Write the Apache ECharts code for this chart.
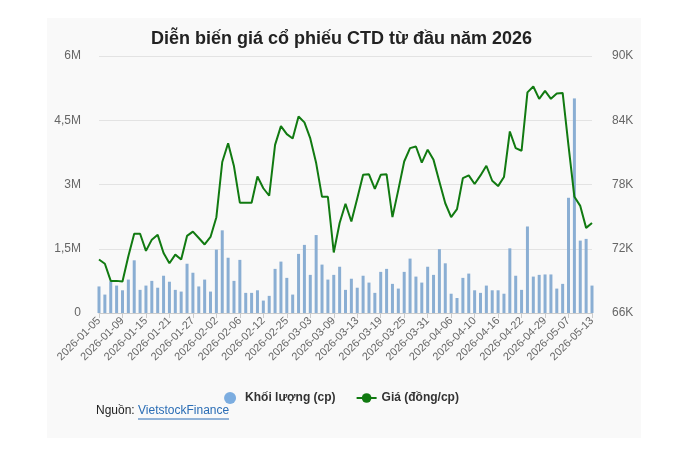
<!DOCTYPE html>
<html><head><meta charset="utf-8">
<script src="https://cdn.jsdelivr.net/npm/echarts@6/dist/echarts.min.js"></script>
<style>html,body{margin:0;padding:0;background:#fff}#c{width:683px;height:454px}</style>
</head><body><div id="c"></div>
<script>
const dates = [
'2026-01-05','2026-01-06','2026-01-07','2026-01-08','2026-01-09','2026-01-12','2026-01-13','2026-01-14','2026-01-15','2026-01-16',
'2026-01-19','2026-01-20','2026-01-21','2026-01-22','2026-01-23','2026-01-26','2026-01-27','2026-01-28','2026-01-29','2026-01-30',
'2026-02-02','2026-02-03','2026-02-04','2026-02-05','2026-02-06','2026-02-09','2026-02-10','2026-02-11','2026-02-12','2026-02-13',
'2026-02-23','2026-02-24','2026-02-25','2026-02-26','2026-02-27','2026-03-02','2026-03-03','2026-03-04','2026-03-05','2026-03-06',
'2026-03-09','2026-03-10','2026-03-11','2026-03-12','2026-03-13','2026-03-16','2026-03-17','2026-03-18','2026-03-19','2026-03-20',
'2026-03-23','2026-03-24','2026-03-25','2026-03-26','2026-03-27','2026-03-30','2026-03-31','2026-04-01','2026-04-02','2026-04-03',
'2026-04-06','2026-04-07','2026-04-08','2026-04-09','2026-04-10','2026-04-13','2026-04-14','2026-04-15','2026-04-16','2026-04-17',
'2026-04-20','2026-04-21','2026-04-22','2026-04-23','2026-04-24','2026-04-28','2026-04-29','2026-05-04','2026-05-05','2026-05-06',
'2026-05-07','2026-05-08','2026-05-11','2026-05-12','2026-05-13'];

// Khối lượng (cp)
const volume = [
620000,430000,740000,640000,530000,780000,1230000,540000,640000,750000,
590000,870000,730000,540000,500000,1150000,940000,620000,780000,500000,
1480000,1930000,1290000,750000,1240000,470000,470000,530000,290000,400000,
1030000,1200000,820000,430000,1380000,1590000,890000,1820000,1130000,780000,
890000,1080000,540000,800000,590000,870000,710000,470000,960000,1030000,
680000,570000,960000,1270000,850000,710000,1080000,890000,1490000,1160000,
450000,350000,820000,920000,530000,470000,640000,530000,530000,450000,
1510000,870000,540000,2020000,850000,890000,900000,900000,570000,680000,
2690000,5010000,1690000,1730000,640000];

// Giá (đồng/cp)
const price = [
71000,70600,69000,69000,68950,71300,73400,73400,71800,72850,
73300,71600,70650,71450,71000,73200,73600,73000,72400,73100,
74950,80100,81850,79700,76300,76300,76300,78750,77650,76950,
81700,83450,82700,82300,84350,83800,82300,80000,76850,76850,
71650,74400,76200,74550,76700,78900,78950,77600,78900,78950,
74950,77500,80150,81400,81550,80050,81250,80300,78250,76250,
74950,75700,78600,78850,78050,78850,79750,78350,77850,78700,
82950,81400,81150,86600,87150,86000,86750,86000,86500,86550,
81600,76850,76000,73950,74400];

const leftTicks = {0:'0',1500000:'1,5M',3000000:'3M',4500000:'4,5M',6000000:'6M'};

const chart = echarts.init(document.getElementById('c'), null, {renderer:'canvas'});
const font = 'Arial, "Liberation Sans", sans-serif';
chart.setOption({
  backgroundColor: '#ffffff',
  animation: false,
  title: {
    text: 'Diễn biến giá cổ phiếu CTD từ đầu năm 2026',
    left: 'center', top: 25,
    textStyle: {fontFamily: font, fontSize: 18, fontWeight: 'bold', color: '#222'}
  },
  graphic: [
    {type:'rect', z:-10, shape:{x:47,y:18,width:594,height:420}, style:{fill:'#f9f9f9'}},
    {type:'text', left: 96, top: 405, style:{text:'Nguồn: ', fontFamily:font, fontSize:12, fill:'#222'}},
    {type:'text', left: 138, top: 405, style:{text:'VietstockFinance', fontFamily:font, fontSize:12, fill:'#2a6db5'}},
    {type:'line', shape:{x1:138,y1:419,x2:229,y2:419}, style:{stroke:'#2a6db5', lineWidth:1}}
  ],
  legend: {
    top: 387, left: 'center', itemGap: 20,
    textStyle: {fontFamily: font, fontSize: 12, fontWeight: 'bold', color: '#333'},
    data: [
      {name:'Khối lượng (cp)', icon:'circle', itemStyle:{color:'#7cade0'}},
      {name:'Giá (đồng/cp)'}
    ],
    itemWidth: 20, itemHeight: 12
  },
  grid: {left: 99, right: 91, top: 56, bottom: 141, containLabel: false},
  xAxis: {
    type: 'category', data: dates, boundaryGap: false,
    axisLine: {show: true, lineStyle: {color: '#ccc'}},
    axisTick: {show: true, interval: 3, length: 5, lineStyle: {color: '#ccc'}},
    axisLabel: {interval: 3, rotate: 45, fontFamily: font, fontSize: 11, color: '#666', margin: 6},
    splitLine: {show: false}
  },
  yAxis: [
    {type:'value', min:0, max:6000000, interval:1500000,
     axisLabel:{formatter: v => leftTicks[v] !== undefined ? leftTicks[v] : '', fontFamily:font, fontSize:12, color:'#666', margin: 18},
     axisLine:{show:false}, axisTick:{show:false},
     splitLine:{lineStyle:{color:'#e3e3e3'}}},
    {type:'value', min:66000, max:90000, interval:6000, position:'right',
     axisLabel:{formatter: v => (v/1000)+'K', fontFamily:font, fontSize:12, color:'#666', margin: 20},
     axisLine:{show:false}, axisTick:{show:false}, splitLine:{show:false}}
  ],
  series: [
    {name:'Khối lượng (cp)', type:'bar', yAxisIndex:0, data: volume, barWidth: 3,
     itemStyle:{color:'#8aaed3'}, z: 2},
    {name:'Giá (đồng/cp)', type:'line', yAxisIndex:1, data: price, symbol:'circle', symbolSize:7,
     showSymbol:false, lineStyle:{color:'#117a11', width:2}, itemStyle:{color:'#117a11'}, z: 3}
  ]
});
</script></body></html>
